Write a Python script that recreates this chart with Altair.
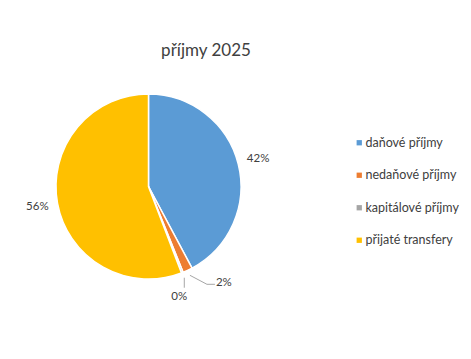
import altair as alt
import pandas as pd

categories = ["daňové příjmy", "nedaňové příjmy", "kapitálové příjmy", "přijaté transfery"]
shares = [42.2, 1.7, 0.3, 55.8]
colors = ["#5B9BD5", "#ED7D31", "#A5A5A5", "#FFC000"]
title_text = "příjmy 2025"

df = pd.DataFrame({"cat": categories, "value": shares, "order": list(range(len(categories)))})

CX, CY, R = 140.5, 178.5, 92.5
FONT = "Lato"
TXT = "#404040"

raw = alt.Chart(df)
base = raw.transform_joinaggregate(total="sum(value)").transform_window(
    cum="sum(value)", sort=[alt.SortField("order")], frame=[None, 0]
).transform_calculate(
    a="(datum.cum - datum.value / 2) / datum.total * 2 * PI",
    pct="format(datum.value / datum.total * 100, '.0f') + '%'",
    sx=f"{CX} + 98 * sin(datum.a)",
    sy=f"{CY} - 98 * cos(datum.a)",
)

pie = raw.mark_arc(outerRadius=R, stroke="white", strokeWidth=1.5).encode(
    theta=alt.Theta("value:Q", stack=True),
    color=alt.Color(
        "cat:N",
        scale=alt.Scale(domain=categories, range=colors),
        legend=alt.Legend(
            title=None, orient="none", legendX=345, legendY=128.5,
            symbolType="square", symbolSize=28, symbolStrokeWidth=0,
            labelFont=FONT, labelFontSize=12.5, labelColor=TXT,
            rowPadding=19.5, labelOffset=0, padding=0,
        ),
    ),
    order=alt.Order("order:Q"),
    x=alt.value(CX),
    y=alt.value(CY),
)

big_labels = base.transform_filter("datum.value / datum.total >= 0.05").transform_calculate(
    lx=f"{CX} + 113 * sin(datum.a)", ly=f"{CY} - 113 * cos(datum.a)"
).mark_text(font=FONT, fontSize=11.5, color=TXT, align="center", baseline="middle").encode(
    x=alt.X("lx:Q", scale=None, axis=None), y=alt.Y("ly:Q", scale=None, axis=None), text="pct:N"
)

orange = base.transform_filter(alt.datum.cat == categories[1])
orange_lead1 = orange.transform_calculate(ex="datum.sx + 17", ey="datum.sy + 9").mark_rule(
    color="#A6A6A6", strokeWidth=1).encode(
    x=alt.X("sx:Q", scale=None, axis=None), y=alt.Y("sy:Q", scale=None, axis=None), x2="ex:Q", y2="ey:Q")
orange_lead2 = orange.transform_calculate(
    bx="datum.sx + 17", by="datum.sy + 9", ex="datum.sx + 25").mark_rule(
    color="#A6A6A6", strokeWidth=1).encode(
    x=alt.X("bx:Q", scale=None, axis=None), y=alt.Y("by:Q", scale=None, axis=None), x2="ex:Q", y2="by:Q")
orange_lbl = orange.transform_calculate(lx="datum.sx + 26", ly="datum.sy + 8").mark_text(
    font=FONT, fontSize=11.5, color=TXT, align="left", baseline="middle").encode(
    x=alt.X("lx:Q", scale=None, axis=None), y=alt.Y("ly:Q", scale=None, axis=None), text="pct:N")

grey = base.transform_filter(alt.datum.cat == categories[2])
grey_lead = grey.transform_calculate(ey="datum.sy + 10").mark_rule(
    color="#A6A6A6", strokeWidth=1).encode(
    x=alt.X("sx:Q", scale=None, axis=None), y=alt.Y("sy:Q", scale=None, axis=None), x2="sx:Q", y2="ey:Q")
grey_lbl = grey.transform_calculate(lx="datum.sx - 5", ly="datum.sy + 19").mark_text(
    font=FONT, fontSize=11.5, color=TXT, align="center", baseline="middle").encode(
    x=alt.X("lx:Q", scale=None, axis=None), y=alt.Y("ly:Q", scale=None, axis=None), text="pct:N")

title = alt.Chart(pd.DataFrame({"t": [title_text]})).mark_text(
    font=FONT, fontSize=17, color=TXT, align="center", baseline="middle").encode(
    x=alt.value(198), y=alt.value(43), text="t:N")

chart = alt.layer(
    pie, big_labels, orange_lead1, orange_lead2, orange_lbl, grey_lead, grey_lbl, title
).properties(width=455, height=343, padding=0, autosize="none").configure_view(stroke=None)

chart.save("out.html", embed_options={"renderer": "svg", "actions": False})
